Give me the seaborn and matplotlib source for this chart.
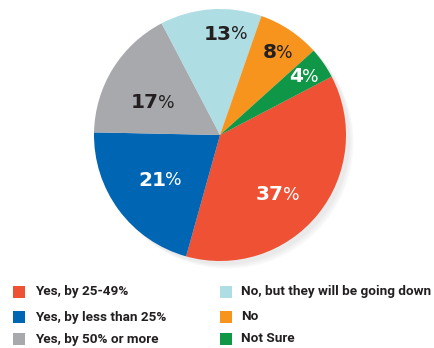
import matplotlib
matplotlib.use("Agg")
import matplotlib.pyplot as plt
import seaborn as sns
from matplotlib.patches import Rectangle, Circle
from matplotlib.font_manager import FontProperties

categories = ["Yes, by 25-49%", "Yes, by less than 25%", "Yes, by 50% or more",
              "No, but they will be going down", "No", "Not Sure"]
values = [37, 21, 17, 13, 8, 4]
colors = ["#EF5134", "#0066B3", "#A7A9AC", "#AEDDE3", "#F7941D", "#0F9647"]
label_colors = ["white", "white", "#231F20", "#231F20", "#231F20", "white"]

sns.set_theme(style="white")
plt.rcParams['font.family'] = ['DejaVu Sans']

leg_fp = FontProperties(family=["Roboto", "DejaVu Sans"], weight="bold")

W, H = 434, 348
fig = plt.figure(figsize=(W / 100, H / 100), dpi=100)
cx, cy, r = 220, 135, 126

ax = fig.add_axes([(cx - r * 1.1) / W, (H - cy - r * 1.1) / H, 2.2 * r / W, 2.2 * r / H])

# soft shadow
for k in range(4):
    ax.add_patch(Circle((0.03 + 0.01 * k, -0.03 - 0.01 * k), 1.0, color="#888888",
                        alpha=0.045, lw=0, zorder=0))

wedges, _ = ax.pie(values, colors=colors, startangle=27.6, counterclock=False,
                   radius=1.0, wedgeprops=dict(linewidth=0, zorder=1))
ax.set_xlim(-1.1, 1.1)
ax.set_ylim(-1.1, 1.1)
ax.axis("off")

label_px = [(284, 195), (166, 180), (159, 103), (232, 34), (277, 53), (303, 77)]
for v, (px, py), tc in zip(values, label_px, label_colors):
    x = (px - cx) / r
    y = -(py - cy) / r
    ax.text(x, y, str(v), ha="right", va="center", fontsize=14.5, fontweight="heavy",
            color=tc, zorder=5)
    ax.text(x - 0.01, y, "%", ha="left", va="center", fontsize=12.5, fontweight="normal",
            color=tc, zorder=5)

# legend
rows_y = [292, 317, 339]
cols_x = [(13, 35), (220, 241)]
texts = []
for i, (lab, col) in enumerate(zip(categories, colors)):
    c, rr = divmod(i, 3)
    sx, tx = cols_x[c]
    y = rows_y[rr]
    fig.add_artist(Rectangle((sx / W, 1 - (y + 6) / H), 12 / W, 12 / H,
                             transform=fig.transFigure, color=col, lw=0))
    t = fig.text(tx / W, 1 - y / H, lab, ha="left", va="center", fontsize=12,
                 fontproperties=leg_fp, color="#231F20")
    texts.append(t)

fig.canvas.draw()
ren = fig.canvas.get_renderer()
w = texts[3].get_window_extent(ren).width
size = min(12.0, 12.0 * 188.0 / w)
for t in texts:
    t.set_fontsize(size)

fig.savefig("out.png", dpi=100, facecolor="white")
